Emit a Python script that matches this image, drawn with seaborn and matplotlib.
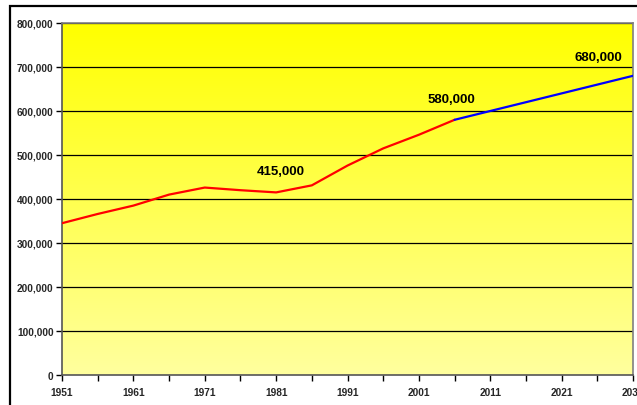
import seaborn as sns
import pandas as pd
import numpy as np
import matplotlib.pyplot as plt
from matplotlib.patches import Rectangle

# observed population
years_obs = [1951, 1956, 1961, 1966, 1971, 1976, 1981, 1986, 1991, 1996, 2001, 2006]
pop_obs = [345000, 366000, 385000, 410000, 426000, 420000, 415000, 431000, 476000, 515000, 546000, 580000]

# projection
years_proj = [2006, 2011, 2016, 2021, 2026, 2031]
pop_proj = [580000, 600000, 620000, 640000, 660000, 680000]

# labelled points
label_years = [1981, 2006, 2031]
label_values = [415000, 580000, 680000]

x_ticks = list(range(1951, 2032, 5))
x_labels = [str(y) if (y - 1951) % 10 == 0 else "" for y in x_ticks]
y_ticks = list(range(0, 800001, 100000))

df_obs = pd.DataFrame({"year": years_obs, "pop": pop_obs})
df_proj = pd.DataFrame({"year": years_proj, "pop": pop_proj})

sns.set_style("white")
plt.rcParams['font.family'] = ['Liberation Sans', 'DejaVu Sans']

fig = plt.figure(figsize=(6.37, 4.06), dpi=100)
ax = fig.add_axes([62/637, 1 - 376/406, 571/637, 352/406])

# yellow gradient background
grad = np.linspace(0, 1, 256)
cols = np.ones((256, 1, 3))
cols[:, 0, 2] = 0.62 * grad
ax.imshow(cols, extent=[0, 1, 0, 1], transform=ax.transAxes, aspect='auto', zorder=0, origin='upper')

for y in y_ticks[1:]:
    ax.axhline(y, color='black', lw=0.9, zorder=1)

sns.lineplot(data=df_obs, x="year", y="pop", color="#ff0000", lw=1.6, ax=ax, zorder=3)
sns.lineplot(data=df_proj, x="year", y="pop", color="#0000ff", lw=1.6, ax=ax, zorder=3)

# label placement relative to the point (years, people)
offsets = [(0.7, 49000), (-0.4, 47000), (-4.8, 43000)]
for yr, val, (dx, dy) in zip(label_years, label_values, offsets):
    ax.text(yr + dx, val + dy, f"{val:,}", ha='center', va='center',
            fontsize=9.5, fontweight='bold', color='black', zorder=4)

ax.set_xlim(1951, 2031)
ax.set_ylim(0, 800000)
ax.set_xticks(x_ticks)
ax.set_xticklabels(x_labels)
ax.set_yticks(y_ticks)
ax.set_yticklabels([f"{v:,}" for v in y_ticks])
ax.set_xlabel("")
ax.set_ylabel("")
ax.tick_params(axis='both', which='both', direction='out', length=4, width=1,
               color='black', labelsize=7.3)
ax.tick_params(axis='x', pad=5)
ax.tick_params(axis='y', pad=2)
for lab in ax.get_xticklabels() + ax.get_yticklabels():
    lab.set_fontweight('bold')
ax.xaxis.set_ticks_position('bottom')
ax.yaxis.set_ticks_position('left')
for side in ['top', 'right']:
    ax.spines[side].set_color('#808080')
    ax.spines[side].set_linewidth(1.2)
for side in ['left', 'bottom']:
    ax.spines[side].set_color('#555555')
    ax.spines[side].set_linewidth(1.2)

# outer chart frame
fig.add_artist(Rectangle((10/637, -0.1), 1.2, 1 - 7/406 + 0.1, transform=fig.transFigure,
                         fill=False, edgecolor='black', lw=1.6))

fig.savefig("out.png", dpi=100)
